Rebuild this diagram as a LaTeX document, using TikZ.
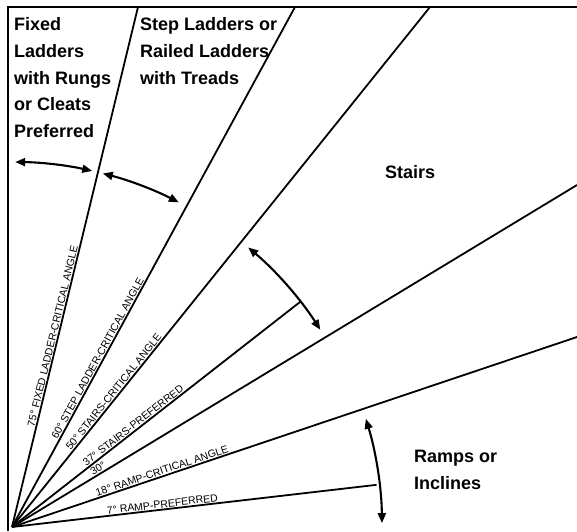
\documentclass[tikz,border=0pt]{standalone}
\usepackage{fontspec}
\setmainfont{Liberation Sans}
\usetikzlibrary{arrows.meta,calc}
\begin{document}
\begin{tikzpicture}[x=1pt,y=1pt,
  ray/.style={line width=1.8pt},
  frameline/.style={line width=2.8pt},
  arcarrow/.style={line width=2.1pt,
    {Triangle[length=10pt,width=8pt]}-{Triangle[length=10pt,width=8pt]}},
  lbl/.style={font=\fontsize{10.5}{12}\selectfont, anchor=south, inner sep=1.5pt},
  big/.style={font=\fontsize{18}{26.7}\selectfont\bfseries, align=left, inner sep=0pt, anchor=north west}
]
\useasboundingbox (0,0) rectangle (577,531);
% frame
\draw[frameline] (577,524) -- (8,524) -- (8,0);
% origin and ray ends
\coordinate (O) at (12,4);
\coordinate (E75) at (138,524);
\coordinate (E60) at (295,524);
\coordinate (E50) at (430,524);
\coordinate (E37) at ($(O)+(38:366)$);
\coordinate (E30) at (577,346);
\coordinate (E18) at (577,194);
\coordinate (E7) at ($(O)+(6.6:367)$);
\foreach \e in {E75,E60,E50,E37,E30,E18,E7}
  \draw[ray] (O) -- (\e);
% angle labels
\node[lbl, rotate=76.38] (t75) at ($(O)+(76.38:195)$) {75° FIXED LADDER-CRITICAL ANGLE};
\node[lbl, rotate=61.44] (t60) at ($(O)+(61.44:189)$) {60° STEP LADDER-CRITICAL ANGLE};
\node[lbl, rotate=51.21] (t50) at ($(O)+(51.21:169)$) {50° STAIRS-CRITICAL ANGLE};
\node[lbl, rotate=38] (t37) at ($(O)+(38:158)$) {37° STAIRS-PREFERRED};
\node[lbl, rotate=31.18] (t30) at ($(O)+(31.18:104)$) {30°};
\node[lbl, rotate=18.59] (t18) at ($(O)+(18.59:160)$) {18° RAMP-CRITICAL ANGLE};
\node[lbl, rotate=6.6] (t7) at ($(O)+(6.6:152)$) {7° RAMP-PREFERRED};
% range arrows
\coordinate (A1) at ($(O)+(89.5:365)$);
\coordinate (B1) at ($(O)+(75.6:365)$);
\coordinate (C1) at ($(O)+(49.8:366)$);
\coordinate (D1) at ($(O)+(17.0:370)$);
\draw[arcarrow] (A1) arc[start angle=89.5, end angle=77.3, radius=365];
\draw[arcarrow] (B1) arc[start angle=75.6, end angle=62.8, radius=365];
\draw[arcarrow] (C1) arc[start angle=49.8, end angle=32.6, radius=366];
\draw[arcarrow] (D1) arc[start angle=17.0, end angle=0.6, radius=370];
% region labels
\node[big] (fixed) at (14,513.5) {Fixed\\Ladders\\with Rungs\\or Cleats\\Preferred};
\node[big] (step) at (140,513.5) {Step Ladders or\\Railed Ladders\\with Treads};
\node[big, anchor=base west] (stairs) at (385,353) {Stairs};
\node[big] (ramps) at (414,81.2) {Ramps or\\Inclines};
\end{tikzpicture}
\end{document}
